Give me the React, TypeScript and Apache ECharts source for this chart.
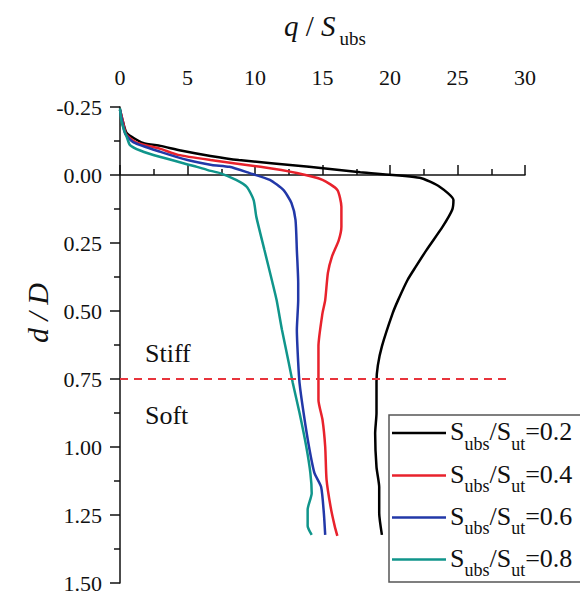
import React, { useEffect, useRef } from "react";
import * as echarts from "echarts";

// Depth (d/D) and normalized pressure (q/S_ubs)
const dBlack = [-0.24, -0.2, -0.154, -0.118, -0.107, -0.09, -0.07, -0.055, -0.03, -0.01, 0.01, 0.044, 0.092, 0.129, 0.19, 0.276, 0.338, 0.386, 0.46, 0.508, 0.63, 0.7, 0.76, 0.875, 0.95, 1.074, 1.147, 1.243, 1.323];
const qBlack = [0, 0.2, 0.5, 1.7, 3.0, 4.5, 6.7, 8.8, 14.0, 17.8, 22.2, 23.7, 24.7, 24.6, 23.9, 22.7, 21.9, 21.3, 20.6, 20.2, 19.4, 19.1, 19.0, 19.0, 18.9, 19.0, 19.2, 19.2, 19.4];

const dRed = [-0.24, -0.2, -0.15, -0.12, -0.096, -0.074, -0.055, -0.03, -0.007, 0.018, 0.055, 0.117, 0.19, 0.24, 0.3, 0.36, 0.46, 0.508, 0.63, 0.765, 0.827, 0.9, 0.999, 1.12, 1.22, 1.29, 1.327];
const qRed = [0, 0.2, 0.45, 1.2, 3.0, 4.3, 6.7, 10.4, 13.1, 15.0, 16.1, 16.4, 16.4, 16.2, 15.7, 15.4, 15.2, 15.0, 14.7, 14.7, 14.7, 15.0, 15.2, 15.3, 15.6, 15.9, 16.1];

const dBlue = [-0.24, -0.2, -0.15, -0.12, -0.085, -0.055, -0.037, -0.03, -0.007, 0.018, 0.055, 0.103, 0.165, 0.276, 0.397, 0.46, 0.57, 0.69, 0.765, 0.875, 0.999, 1.095, 1.147, 1.243, 1.323];
const qBlue = [0, 0.15, 0.4, 1.0, 3.0, 5.0, 6.8, 8.1, 9.6, 11.1, 12.1, 12.7, 13.0, 13.1, 13.2, 13.2, 13.1, 13.2, 13.3, 13.6, 14.0, 14.4, 14.9, 15.1, 15.2];

const dTeal = [-0.245, -0.2, -0.165, -0.14, -0.11, -0.09, -0.066, -0.03, -0.018, -0.007, 0.018, 0.044, 0.092, 0.154, 0.276, 0.397, 0.46, 0.57, 0.69, 0.765, 0.875, 0.999, 1.095, 1.17, 1.23, 1.29, 1.323];
const qTeal = [0, 0.1, 0.3, 0.5, 0.74, 1.5, 3.0, 5.7, 6.5, 7.4, 8.6, 9.4, 9.9, 10.1, 10.7, 11.3, 11.6, 12.0, 12.5, 12.8, 13.3, 13.8, 14.1, 14.2, 13.9, 13.9, 14.2];

const ratios = ["0.2", "0.4", "0.6", "0.8"];
const colors = ["#000000", "#e8222c", "#2238a8", "#10958b"];
const boundaryDepth = 0.75;
const boundaryEndQ = 28.9;
const xTicks = [0, 5, 10, 15, 20, 25, 30];
const yTickLabels = ["-0.25", "0.00", "0.25", "0.50", "0.75", "1.00", "1.25", "1.50"];

const FONT = "'Liberation Serif', 'Times New Roman', serif";

function pairs(q: number[], d: number[]) {
  return q.map((v, i) => [v, d[i]]);
}

export default function App() {
  const ref = useRef<HTMLDivElement>(null);
  useEffect(() => {
    document.body.style.margin = "0";
    if (!ref.current) return;
    const chart = echarts.init(ref.current, null, { renderer: "svg" });
    const curves = [
      pairs(qBlack, dBlack),
      pairs(qRed, dRed),
      pairs(qBlue, dBlue),
      pairs(qTeal, dTeal),
    ];
    const series: any[] = curves.map((data, i) => ({
      type: "line",
      name: "S" + ratios[i],
      data,
      showSymbol: false,
      smooth: 0.2,
      lineStyle: { color: colors[i], width: 2.5 },
      z: 3 + i,
    }));
    series.push({
      type: "line",
      data: [
        [0, boundaryDepth],
        [boundaryEndQ, boundaryDepth],
      ],
      showSymbol: false,
      lineStyle: { color: "#e8343c", width: 2, type: [8, 6] },
      z: 10,
    });

    const rowY = [431.5, 474, 516, 558];
    const legendEls: any[] = [
      {
        type: "rect",
        shape: { x: 389, y: 415, width: 220, height: 167 },
        style: { fill: "#ffffff", stroke: "#555555", lineWidth: 1.5 },
        z: 20,
      },
    ];
    ratios.forEach((r, i) => {
      legendEls.push({
        type: "line",
        shape: { x1: 392, y1: rowY[i] + 1.5, x2: 446, y2: rowY[i] + 1.5 },
        style: { stroke: colors[i], lineWidth: 2.5 },
        z: 21,
      });
      legendEls.push({
        type: "text",
        x: 450,
        y: rowY[i],
        style: {
          text: "{m|S}{s|ubs}{m|/S}{s|ut}{m|=" + r + "}",
          verticalAlign: "middle",
          align: "left",
          fill: "#111",
          fontFamily: FONT,
          rich: {
            m: { fontFamily: FONT, fontSize: 26, lineHeight: 42, fill: "#111" },
            s: { fontFamily: FONT, fontSize: 18, lineHeight: 18, verticalAlign: "bottom", fill: "#111" },
          },
        },
        z: 21,
      });
    });

    chart.setOption({
      animation: false,
      backgroundColor: "#ffffff",
      textStyle: { fontFamily: FONT },
      grid: { left: 120, top: 107, width: 405, height: 476, containLabel: false },
      xAxis: {
        type: "value",
        position: "top",
        min: 0,
        max: 30,
        interval: 5,
        axisLine: { show: true, lineStyle: { color: "#111", width: 1.5 } },
        axisTick: { show: true, inside: false, length: 10, lineStyle: { color: "#111", width: 1.5 } },
        minorTick: { show: true, splitNumber: 2, length: 6, lineStyle: { color: "#111", width: 1.5 } },
        splitLine: { show: false },
        axisLabel: {
          margin: 19,
          fontFamily: FONT,
          fontSize: 22,
          color: "#111",
          formatter: (v: number) => (xTicks.indexOf(v) >= 0 ? String(v) : ""),
        },
      },
      yAxis: {
        type: "value",
        inverse: true,
        min: -0.25,
        max: 1.5,
        interval: 0.25,
        axisLine: { show: true, onZero: false, lineStyle: { color: "#111", width: 1.5 } },
        axisTick: { show: true, inside: false, length: 10, lineStyle: { color: "#111", width: 1.5 } },
        minorTick: { show: true, splitNumber: 2, length: 6, lineStyle: { color: "#111", width: 1.5 } },
        splitLine: { show: false },
        axisLabel: {
          margin: 18,
          fontFamily: FONT,
          fontSize: 22,
          color: "#111",
          formatter: (v: number) => {
            const idx = Math.round((v + 0.25) / 0.25);
            return yTickLabels[idx] ?? v.toFixed(2);
          },
        },
      },
      series,
      graphic: [
        {
          type: "text",
          x: 284,
          y: 25.5,
          style: {
            text: "{i|q}{n| / }{i|S}{s|ubs}",
            verticalAlign: "middle",
            align: "left",
            fill: "#111",
            fontFamily: FONT,
            rich: {
              i: { fontFamily: FONT, fontSize: 29, fontStyle: "italic", lineHeight: 44, fill: "#111" },
              n: { fontFamily: FONT, fontSize: 29, lineHeight: 44, fill: "#111" },
              s: { fontFamily: FONT, fontSize: 19, lineHeight: 19, verticalAlign: "bottom", padding: [0, 0, 0, 4], fill: "#111" },
            },
          },
        },
        {
          type: "text",
          x: 37,
          y: 313,
          rotation: Math.PI / 2,
          style: {
            text: "d / D",
            fontFamily: FONT,
            fontSize: 30,
            fontStyle: "italic",
            align: "center",
            verticalAlign: "middle",
            fill: "#111",
          },
        },
        {
          type: "text",
          x: 145,
          y: 353.5,
          style: { text: "Stiff", fontFamily: FONT, fontSize: 26, fill: "#111", verticalAlign: "middle" },
        },
        {
          type: "text",
          x: 145,
          y: 415,
          style: { text: "Soft", fontFamily: FONT, fontSize: 26, fill: "#111", verticalAlign: "middle" },
        },
        ...legendEls,
      ],
    });
    return () => chart.dispose();
  }, []);
  return <div ref={ref} style={{ width: 580, height: 599 }} />;
}
